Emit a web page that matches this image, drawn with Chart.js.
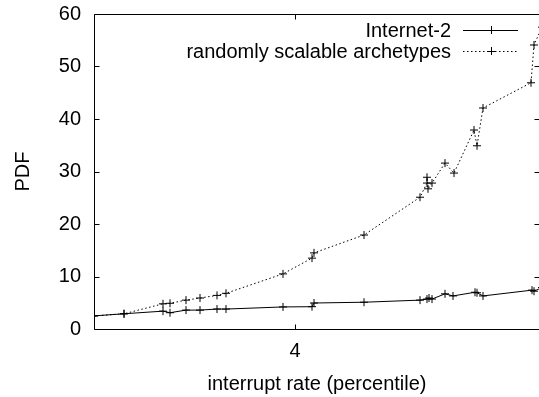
<!DOCTYPE html>
<html>
<head>
<meta charset="utf-8">
<script src="https://cdn.jsdelivr.net/npm/chart.js@4.4.0/dist/chart.umd.min.js"></script>
<style>
  html, body { margin: 0; padding: 0; background: #fff; overflow: hidden; }
  canvas { display: block; }
</style>
</head>
<body>
<canvas id="chart" width="545" height="397"></canvas>
<script>
const seriesNames = ['Internet-2', 'randomly scalable archetypes'];

// Internet-2 (solid line)
const internetX = [1.99, 2.29, 2.68, 2.75, 2.91, 3.05, 3.22, 3.31, 3.88, 4.17, 4.19, 4.69,
  5.25, 5.32, 5.34, 5.37, 5.50, 5.58, 5.80, 5.82, 5.88, 6.37, 6.39, 6.47];
const internetY = [2.5, 2.9, 3.4, 3.1, 3.6, 3.6, 3.8, 3.8, 4.2, 4.25, 4.95, 5.1,
  5.5, 5.7, 5.9, 5.7, 6.7, 6.3, 7.0, 6.9, 6.3, 7.4, 7.2, 7.9];

// randomly scalable archetypes (dotted line)
const archX = [1.99, 2.29, 2.68, 2.75, 2.91, 3.05, 3.22, 3.31, 3.88, 4.17, 4.19, 4.69,
  5.25, 5.32, 5.32, 5.33, 5.37, 5.50, 5.59, 5.79, 5.82, 5.88, 6.36, 6.39, 6.47];
const archY = [2.5, 2.9, 4.8, 4.9, 5.5, 5.9, 6.4, 6.8, 10.5, 13.5, 14.5, 17.9,
  25.1, 27.8, 28.9, 26.7, 27.8, 31.6, 29.7, 37.9, 34.9, 42.1, 46.9, 54.1, 57.5];

const xTicks = [4];
const yTicks = [0, 10, 20, 30, 40, 50, 60];
const xLabel = 'interrupt rate (percentile)';
const yLabel = 'PDF';

const FONT = 'Liberation Sans, Arial, Helvetica, sans-serif';
Chart.defaults.font.family = FONT;
Chart.defaults.font.size = 20;
Chart.defaults.color = '#000';

const toPoints = (xs, ys) => xs.map((x, i) => ({ x, y: ys[i] }));

const noPad = s => { s.paddingTop = 0; s.paddingBottom = 0; s.paddingLeft = 0; s.paddingRight = 0; };

// gnuplot style frame: box + inward (mirrored) ticks
const frame = {
  id: 'frame',
  afterDatasetsDraw(chart) {
    const { ctx, chartArea: a, scales: { x, y } } = chart;
    const L = Math.floor(a.left) + 0.5, R = Math.floor(a.right) - 0.5;
    const T = Math.floor(a.top) + 0.5, B = Math.floor(a.bottom) + 0.5;
    ctx.save();
    ctx.strokeStyle = '#000';
    ctx.lineWidth = 1;
    ctx.beginPath();
    ctx.rect(L, T, R - L, B - T);
    yTicks.forEach(v => {
      const py = Math.round(y.getPixelForValue(v)) + 0.5;
      ctx.moveTo(L, py); ctx.lineTo(L + 5, py);
      ctx.moveTo(R, py); ctx.lineTo(R - 5, py);
    });
    xTicks.forEach(v => {
      const px = Math.round(x.getPixelForValue(v)) + 0.5;
      ctx.moveTo(px, B); ctx.lineTo(px, B - 5);
      ctx.moveTo(px, T); ctx.lineTo(px, T + 5);
    });
    ctx.stroke();
    ctx.restore();
  }
};

// legend: text right-aligned, sample line to its right
const keyBox = {
  id: 'keyBox',
  afterDraw(chart) {
    const { ctx } = chart;
    ctx.save();
    ctx.font = '20px ' + FONT;
    ctx.fillStyle = '#000';
    ctx.textAlign = 'right';
    ctx.textBaseline = 'middle';
    chart.data.datasets.forEach((ds, i) => {
      const yy = 30 + i * 21;
      ctx.fillText(ds.label, 451, yy + 1);
      ctx.strokeStyle = '#000';
      ctx.lineWidth = 1;
      ctx.setLineDash(ds.borderDash || []);
      ctx.beginPath();
      ctx.moveTo(463, yy + 0.5); ctx.lineTo(518, yy + 0.5);
      ctx.stroke();
      ctx.setLineDash([]);
      ctx.beginPath();
      ctx.moveTo(487, yy + 0.5); ctx.lineTo(495, yy + 0.5);
      ctx.moveTo(491.5, yy - 4); ctx.lineTo(491.5, yy + 4);
      ctx.stroke();
    });
    ctx.restore();
  }
};

new Chart(document.getElementById('chart'), {
  type: 'line',
  data: {
    datasets: [
      {
        label: seriesNames[0],
        data: toPoints(internetX, internetY),
        borderColor: '#000',
        borderWidth: 1,
        pointStyle: 'cross',
        pointRadius: 4,
        pointBorderWidth: 1,
        pointBorderColor: '#000',
        tension: 0
      },
      {
        label: seriesNames[1],
        data: toPoints(archX, archY),
        borderColor: '#000',
        borderWidth: 1,
        borderDash: [1.5, 2.5],
        pointStyle: 'cross',
        pointRadius: 4,
        pointBorderWidth: 1,
        pointBorderColor: '#000',
        tension: 0
      }
    ]
  },
  options: {
    responsive: false,
    animation: false,
    events: [],
    layout: { padding: { top: 14, right: 0, left: 0, bottom: 0 } },
    plugins: { legend: { display: false }, tooltip: { enabled: false } },
    scales: {
      x: {
        type: 'linear',
        min: 1.99,
        max: 6.45,
        grid: { display: false, drawTicks: false },
        border: { display: false },
        afterBuildTicks: s => { s.ticks = xTicks.map(v => ({ value: v })); },
        afterFit: s => { s.height = 68; noPad(s); },
        ticks: { padding: 10, font: { size: 20 } },
        title: { display: true, text: xLabel, font: { size: 20 }, padding: { top: 0, bottom: 1 } }
      },
      y: {
        min: 0,
        max: 60,
        grid: { display: false, drawTicks: false },
        border: { display: false },
        afterBuildTicks: s => { s.ticks = yTicks.map(v => ({ value: v })); },
        afterFit: s => { s.width = 94; noPad(s); },
        ticks: { padding: 13, font: { size: 20 } },
        title: { display: true, text: yLabel, font: { size: 20 }, padding: { top: 11, bottom: 0 } }
      }
    }
  },
  plugins: [frame, keyBox]
});
</script>
</body>
</html>
